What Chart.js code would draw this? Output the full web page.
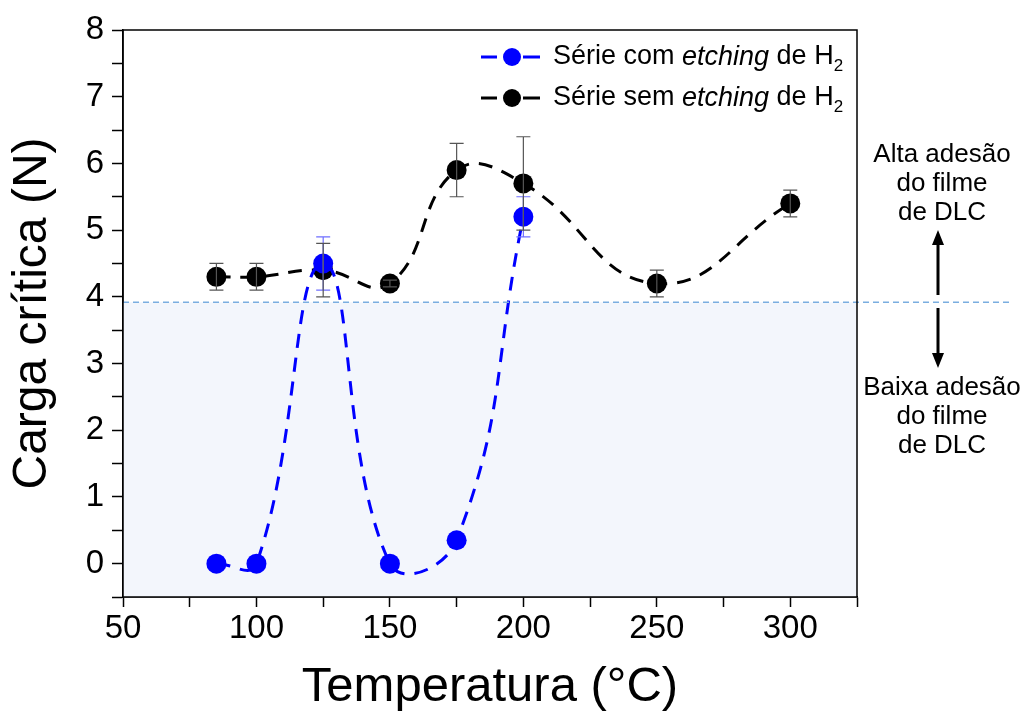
<!DOCTYPE html>
<html>
<head>
<meta charset="utf-8">
<script src="https://cdn.jsdelivr.net/npm/chart.js@4/dist/chart.umd.min.js"></script>
<style>
  html, body { margin: 0; padding: 0; background: #ffffff; }
  #wrap { width: 1022px; height: 717px; }
</style>
</head>
<body>
<div id="wrap"><canvas id="c" width="1022" height="717"></canvas></div>
<script>
// ---- data ----
const tempsEtching = [85, 100, 125, 150, 175, 200];
const loadEtching  = [0, 0, 4.5, 0, 0.35, 5.2];
const errEtching   = [0, 0, 0.4, 0, 0, 0.3];

const tempsNoEtching = [85, 100, 125, 150, 175, 200, 250, 300];
const loadNoEtching  = [4.3, 4.3, 4.4, 4.2, 5.9, 5.7, 4.2, 5.4];
const errNoEtching   = [0.2, 0.2, 0.4, 0.05, 0.4, 0.7, 0.2, 0.2];

const adhesionThreshold = 3.92;

const xTicksMajor = [50, 100, 150, 200, 250, 300];
const legendLabels = [
  ["Série com ", "etching", " de H", "2"],
  ["Série sem ", "etching", " de H", "2"]
];
const highText = ["Alta adesão", "do filme", "de DLC"];
const lowText  = ["Baixa adesão", "do filme", "de DLC"];

const FONT = "'Liberation Sans', Arial, sans-serif";
const BLUE = "#0000ff";
const BLACK = "#000000";

function toPoints(xs, ys) { return xs.map((x, i) => ({ x: x, y: ys[i] })); }

const errorMap = [errEtching, errNoEtching];
const errorColors = ["#6f6fff", "#555555"];

const decorPlugin = {
  id: "decor",
  beforeDatasetsDraw(chart) {
    const { ctx, chartArea: a, scales: { y } } = chart;
    const yt = y.getPixelForValue(adhesionThreshold);
    ctx.save();
    ctx.fillStyle = "#f3f6fc";
    ctx.fillRect(a.left, yt, a.right - a.left, a.bottom - yt);
    ctx.restore();
  },
  afterDatasetsDraw(chart) {
    const { ctx, chartArea: a, scales: { x, y } } = chart;
    const yt = y.getPixelForValue(adhesionThreshold);
    ctx.save();
    ctx.strokeStyle = "#7aaee0";
    ctx.lineWidth = 1.5;
    ctx.setLineDash([6, 4]);
    ctx.beginPath();
    ctx.moveTo(a.left, yt);
    ctx.lineTo(1010, yt);
    ctx.stroke();
    ctx.restore();

    chart.data.datasets.forEach((ds, di) => {
      const errs = errorMap[di];
      ctx.save();
      ctx.strokeStyle = errorColors[di];
      ctx.lineWidth = 1.2;
      ds.data.forEach((p, i) => {
        const e = errs[i];
        if (!e) return;
        const px = x.getPixelForValue(p.x);
        const top = y.getPixelForValue(p.y + e);
        const bot = y.getPixelForValue(p.y - e);
        ctx.beginPath();
        ctx.moveTo(px, top); ctx.lineTo(px, bot);
        ctx.moveTo(px - 7, top); ctx.lineTo(px + 7, top);
        ctx.moveTo(px - 7, bot); ctx.lineTo(px + 7, bot);
        ctx.stroke();
      });
      ctx.restore();
    });
  },
  afterDraw(chart) {
    const { ctx, chartArea: a } = chart;
    ctx.save();
    ctx.strokeStyle = BLACK;
    ctx.lineWidth = 1.5;
    ctx.strokeRect(a.left, a.top, a.right - a.left, a.bottom - a.top);

    const rows = [
      { color: BLUE, y: 57, parts: legendLabels[0] },
      { color: BLACK, y: 98, parts: legendLabels[1] }
    ];
    rows.forEach(r => {
      ctx.strokeStyle = r.color;
      ctx.lineWidth = 3;
      ctx.setLineDash([]);
      ctx.beginPath();
      ctx.moveTo(481, r.y); ctx.lineTo(497, r.y);
      ctx.moveTo(523, r.y); ctx.lineTo(540, r.y);
      ctx.stroke();
      ctx.fillStyle = r.color;
      ctx.beginPath();
      ctx.arc(512, r.y, 9, 0, Math.PI * 2);
      ctx.fill();

      ctx.fillStyle = BLACK;
      ctx.textBaseline = "middle";
      ctx.textAlign = "left";
      let tx = 553;
      const fonts = [
        "27px " + FONT,
        "italic 27px " + FONT,
        "27px " + FONT,
        "17px " + FONT
      ];
      r.parts.forEach((t, k) => {
        ctx.font = fonts[k];
        const dy = k === 3 ? 9 : 0;
        ctx.fillText(t, tx, r.y + dy);
        tx += ctx.measureText(t).width;
      });
    });

    ctx.fillStyle = BLACK;
    ctx.font = "26px " + FONT;
    ctx.textAlign = "center";
    ctx.textBaseline = "middle";
    const cx = 942;
    highText.forEach((t, i) => ctx.fillText(t, cx, 155 + i * 29));
    lowText.forEach((t, i) => ctx.fillText(t, cx, 388 + i * 29));

    const ax = 938;
    ctx.strokeStyle = BLACK;
    ctx.lineWidth = 3;
    ctx.beginPath();
    ctx.moveTo(ax, 295); ctx.lineTo(ax, 240);
    ctx.moveTo(ax, 308); ctx.lineTo(ax, 358);
    ctx.stroke();
    ctx.beginPath();
    ctx.moveTo(ax, 230); ctx.lineTo(ax - 6, 245); ctx.lineTo(ax + 6, 245); ctx.closePath();
    ctx.fill();
    ctx.beginPath();
    ctx.moveTo(ax, 368); ctx.lineTo(ax - 6, 353); ctx.lineTo(ax + 6, 353); ctx.closePath();
    ctx.fill();
    ctx.restore();
  }
};

new Chart(document.getElementById("c"), {
  type: "line",
  data: {
    datasets: [
      {
        label: "Série com etching de H2",
        data: toPoints(tempsEtching, loadEtching),
        borderColor: BLUE,
        backgroundColor: BLUE,
        borderWidth: 3,
        borderDash: [14, 10],
        pointRadius: 10,
        pointHoverRadius: 10,
        pointBorderWidth: 0,
        pointBackgroundColor: BLUE,
        tension: 0.45,
        fill: false
      },
      {
        label: "Série sem etching de H2",
        data: toPoints(tempsNoEtching, loadNoEtching),
        borderColor: BLACK,
        backgroundColor: BLACK,
        borderWidth: 3,
        borderDash: [14, 10],
        pointRadius: 10,
        pointHoverRadius: 10,
        pointBorderWidth: 0,
        pointBackgroundColor: BLACK,
        tension: 0.45,
        fill: false
      }
    ]
  },
  options: {
    responsive: false,
    animation: false,
    layout: { padding: { left: 0, right: 165, top: 30, bottom: 0 } },
    plugins: {
      legend: { display: false },
      tooltip: { enabled: false }
    },
    scales: {
      x: {
        type: "linear",
        min: 50,
        max: 325,
        afterFit(s) { s.height = 120; },
        ticks: {
          stepSize: 25,
          autoSkip: false,
          maxRotation: 0,
          color: BLACK,
          padding: 2,
          font: { family: FONT, size: 33 },
          callback: v => (xTicksMajor.includes(v) ? String(v) : "")
        },
        grid: {
          drawOnChartArea: false,
          drawTicks: true,
          tickLength: 10,
          tickColor: BLACK,
          tickWidth: 1.5,
          color: BLACK
        },
        border: { display: true, color: BLACK, width: 1.5 },
        title: {
          display: true,
          text: "Temperatura (°C)",
          color: BLACK,
          font: { family: FONT, size: 49 },
          padding: { top: 0, bottom: 0 }
        }
      },
      y: {
        type: "linear",
        min: -0.5,
        max: 8,
        afterFit(s) { s.width = 123; },
        ticks: {
          stepSize: 0.5,
          autoSkip: false,
          color: BLACK,
          padding: 8,
          font: { family: FONT, size: 33 },
          callback: v => (Number.isInteger(v) ? String(v) : "")
        },
        grid: {
          drawOnChartArea: false,
          drawTicks: true,
          tickLength: 11,
          tickColor: BLACK,
          tickWidth: 1.5,
          color: BLACK
        },
        border: { display: true, color: BLACK, width: 1.5 },
        title: {
          display: true,
          text: "Carga crítica (N)",
          color: BLACK,
          font: { family: FONT, size: 48 },
          padding: { top: 4, bottom: 0 }
        }
      }
    }
  },
  plugins: [decorPlugin]
});
</script>
</body>
</html>
